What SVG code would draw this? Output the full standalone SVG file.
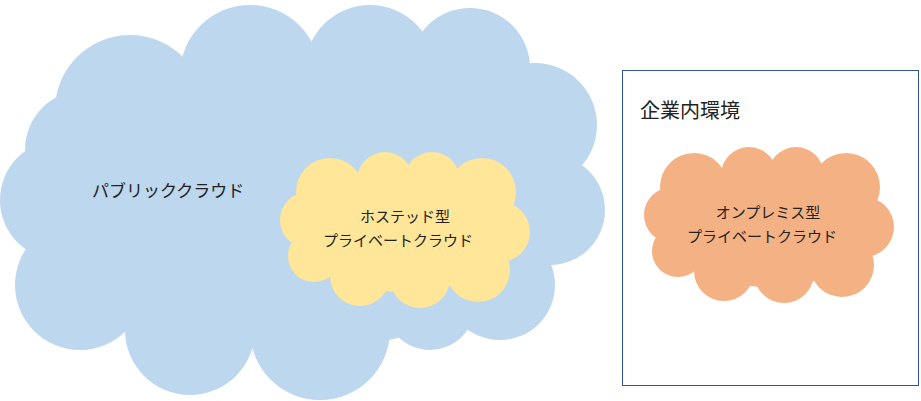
<svg xmlns="http://www.w3.org/2000/svg" width="921" height="401" viewBox="0 0 921 401">
<style>
text{font-family:"Liberation Sans","Noto Sans CJK JP",sans-serif;fill:#222}
.s{font-size:15px;text-anchor:middle}
</style>
<defs>
<g id="small">
<ellipse cx="404" cy="230" rx="108" ry="62"/>
<circle cx="330" cy="192" r="34"/><circle cx="385" cy="180" r="28"/><circle cx="432" cy="180" r="28"/>
<circle cx="482" cy="192" r="34"/><circle cx="500" cy="232" r="30"/><circle cx="478" cy="270" r="32"/>
<circle cx="420" cy="278" r="30"/><circle cx="360" cy="276" r="30"/><circle cx="314" cy="256" r="26"/><circle cx="308" cy="220" r="28"/>
</g>
</defs>
<rect width="921" height="401" fill="#fff"/>
<g id="public" fill="#bdd7ee">
<ellipse cx="300" cy="200" rx="250" ry="150"/>
<circle cx="130" cy="110" r="75"/><circle cx="250" cy="75" r="70"/><circle cx="370" cy="70" r="65"/>
<circle cx="470" cy="68" r="60"/><circle cx="535" cy="125" r="62"/><circle cx="550" cy="210" r="55"/>
<circle cx="500" cy="285" r="55"/><circle cx="430" cy="305" r="45"/><circle cx="320" cy="330" r="70"/><circle cx="190" cy="330" r="65"/>
<circle cx="80" cy="285" r="65"/><circle cx="60" cy="200" r="60"/><circle cx="85" cy="150" r="60"/>
<text x="92" y="197" style="font-size:17px">パブリッククラウド</text>
</g>
<g id="hosted">
<use href="#small" fill="#ffe699"/>
<text class="s" x="405" y="222">ホステッド型</text>
<text class="s" x="398" y="246">プライベートクラウド</text>
</g>
<g id="onprem-env">
<rect x="622.5" y="70.5" width="296" height="315" fill="none" stroke="#2f5597" stroke-width="1"/>
<text x="640" y="118" style="font-size:20px">企業内環境</text>
</g>
<g id="onprem">
<use href="#small" fill="#f4b183" transform="translate(364,-5)"/>
<text class="s" x="768" y="218">オンプレミス型</text>
<text class="s" x="762" y="242">プライベートクラウド</text>
</g>
<g id="connectors"/>
</svg>
